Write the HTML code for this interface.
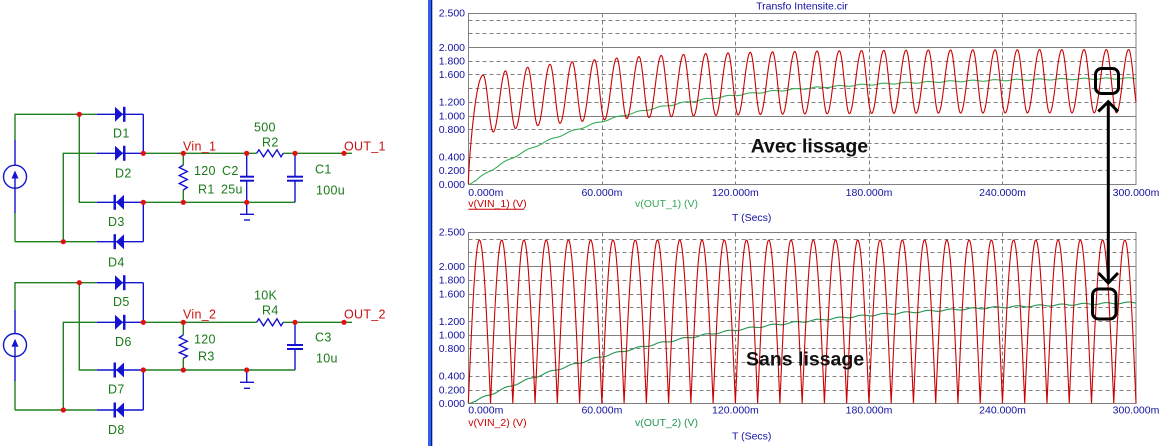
<!DOCTYPE html>
<html>
<head>
<meta charset="utf-8">
<style>
html,body{margin:0;padding:0;background:#fff;}
body{width:1163px;height:446px;overflow:hidden;}
svg{display:block;}
.sl{font-family:"Liberation Sans",Arial,sans-serif;font-size:12.5px;fill:#1a7a1a;letter-spacing:0.3px;}
.sr{font-family:"Liberation Sans",Arial,sans-serif;font-size:12.5px;fill:#cc1010;letter-spacing:0.3px;}
.ax{font-family:"Liberation Sans",Arial,sans-serif;font-size:10.5px;fill:#1010a0;}
.big{font-family:"Liberation Sans",Arial,sans-serif;font-size:19.5px;font-weight:bold;fill:#111;}
</style>
</head>
<body>
<svg id="s" width="1163" height="446" viewBox="0 0 1163 446" xmlns="http://www.w3.org/2000/svg">
<rect x="0" y="0" width="1163" height="446" fill="#fff"/>

<!-- ===== TOP CIRCUIT ===== -->
<g stroke="#208020" stroke-width="1.4" fill="none">
  <polyline points="15,140 15,114.3 96.7,114.3"/>
  <line x1="15" y1="213" x2="15" y2="241.7"/>
  <polyline points="79.3,114.3 79.3,202.3 96.7,202.3"/>
  <polyline points="63.3,241.7 63.3,153.3 96.7,153.3"/>
  <line x1="15" y1="241.7" x2="96.7" y2="241.7"/>
  <line x1="143.3" y1="153.3" x2="256.7" y2="153.3"/>
  <line x1="283.3" y1="153.3" x2="352" y2="153.3"/>
  <line x1="143.3" y1="202.3" x2="295" y2="202.3"/>
  <line x1="183.3" y1="153.3" x2="183.3" y2="165"/>
  <line x1="183.3" y1="190" x2="183.3" y2="202.3"/>
</g>
<g stroke="#1414d0" stroke-width="1.4" fill="none">
  <line x1="15" y1="140" x2="15" y2="165.2"/>
  <line x1="15" y1="178.5" x2="15" y2="213"/>
  <circle cx="15" cy="176.7" r="11.5"/>
  <line x1="96.7" y1="114.3" x2="143.3" y2="114.3"/>
  <line x1="96.7" y1="153.3" x2="143.3" y2="153.3"/>
  <line x1="96.7" y1="202.3" x2="143.3" y2="202.3"/>
  <line x1="96.7" y1="241.7" x2="143.3" y2="241.7"/>
  <line x1="143.3" y1="114.3" x2="143.3" y2="153.3"/>
  <line x1="143.3" y1="202.3" x2="143.3" y2="241.7"/>
  <polyline points="256.7,153.3 259,149.8 263.5,156.8 268,149.8 272.5,156.8 277,149.8 281,156.8 283.3,153.3"/>
  <polyline points="183.3,165 179.3,167.5 187.3,171.5 179.3,175.5 187.3,179.5 179.3,183.5 187.3,187.5 183.3,190"/>
  <line x1="246.7" y1="153.3" x2="246.7" y2="176.7"/>
  <line x1="246.7" y1="180.7" x2="246.7" y2="214.3"/>
  <line x1="240" y1="176.7" x2="254" y2="176.7" stroke-width="2"/>
  <line x1="240" y1="180.7" x2="254" y2="180.7" stroke-width="2"/>
  <line x1="240" y1="214.3" x2="254" y2="214.3"/>
  <line x1="244" y1="220" x2="250" y2="220"/>
  <line x1="295" y1="153.3" x2="295" y2="176.7"/>
  <line x1="295" y1="180.7" x2="295" y2="202.3"/>
  <line x1="287" y1="176.7" x2="303" y2="176.7" stroke-width="2"/>
  <line x1="287" y1="180.7" x2="303" y2="180.7" stroke-width="2"/>
</g>
<g fill="#1414d0">
  <polygon points="11.5,178.5 18.5,178.5 15,170.5"/>
  <polygon points="115,106.8 115,121.8 123,114.3"/><rect x="123" y="106.8" width="2.5" height="15"/>
  <polygon points="115,145.8 115,160.8 123,153.3"/><rect x="123" y="145.8" width="2.5" height="15"/>
  <polygon points="124,194.8 124,209.8 116,202.3"/><rect x="113.5" y="194.8" width="2.5" height="15"/>
  <polygon points="124,234.2 124,249.2 116,241.7"/><rect x="113.5" y="234.2" width="2.5" height="15"/>
</g>
<g fill="#e01010">
  <circle cx="79.3" cy="114.3" r="2.6"/><circle cx="143.3" cy="153.3" r="2.6"/>
  <circle cx="183.3" cy="153.3" r="2.6"/><circle cx="246.7" cy="153.3" r="2.6"/>
  <circle cx="295" cy="153.3" r="2.6"/><circle cx="344" cy="153.3" r="2.6"/>
  <circle cx="143.3" cy="202.3" r="2.6"/><circle cx="183.3" cy="202.3" r="2.6"/>
  <circle cx="246.7" cy="202.3" r="2.6"/><circle cx="63.3" cy="241.7" r="2.6"/>
</g>
<text class="sl" x="113" y="137.7">D1</text>
<text class="sl" x="115" y="177.3">D2</text>
<text class="sl" x="108" y="226">D3</text>
<text class="sl" x="108" y="266.7">D4</text>
<text class="sr" x="183" y="150.3">Vin_1</text>
<text class="sr" x="344" y="150.3">OUT_1</text>
<text class="sl" x="254" y="131.7">500</text>
<text class="sl" x="262" y="146.7">R2</text>
<text class="sl" x="194" y="175">120</text>
<text class="sl" x="222" y="175">C2</text>
<text class="sl" x="198" y="193.3">R1</text>
<text class="sl" x="221" y="193.3">25u</text>
<text class="sl" x="315" y="173.3">C1</text>
<text class="sl" x="316" y="194.3">100u</text>

<!-- ===== BOTTOM CIRCUIT ===== -->
<g stroke="#208020" stroke-width="1.4" fill="none">
  <polyline points="15,310 15,282.7 96.7,282.7"/>
  <line x1="15" y1="381" x2="15" y2="410"/>
  <polyline points="79.3,282.7 79.3,370 96.7,370"/>
  <polyline points="63.3,410 63.3,322.3 96.7,322.3"/>
  <line x1="15" y1="410" x2="96.7" y2="410"/>
  <line x1="143.3" y1="322.3" x2="256.7" y2="322.3"/>
  <line x1="283.3" y1="322.3" x2="352" y2="322.3"/>
  <line x1="143.3" y1="370" x2="295" y2="370"/>
  <line x1="183.3" y1="322.3" x2="183.3" y2="335"/>
  <line x1="183.3" y1="358.3" x2="183.3" y2="370"/>
</g>
<g stroke="#1414d0" stroke-width="1.4" fill="none">
  <line x1="15" y1="310" x2="15" y2="333.5"/>
  <line x1="15" y1="346.8" x2="15" y2="381"/>
  <circle cx="15" cy="345" r="11.5"/>
  <line x1="96.7" y1="282.7" x2="143.3" y2="282.7"/>
  <line x1="96.7" y1="322.3" x2="143.3" y2="322.3"/>
  <line x1="96.7" y1="370" x2="143.3" y2="370"/>
  <line x1="96.7" y1="410" x2="143.3" y2="410"/>
  <line x1="143.3" y1="282.7" x2="143.3" y2="322.3"/>
  <line x1="143.3" y1="370" x2="143.3" y2="410"/>
  <polyline points="256.7,322.3 259,318.8 263.5,325.8 268,318.8 272.5,325.8 277,318.8 281,325.8 283.3,322.3"/>
  <polyline points="183.3,335 179.3,337.5 187.3,341.3 179.3,345.1 187.3,348.9 179.3,352.7 187.3,356 183.3,358.3"/>
  <line x1="246.7" y1="370" x2="246.7" y2="382.3"/>
  <line x1="240" y1="382.3" x2="254" y2="382.3"/>
  <line x1="244" y1="388.3" x2="250" y2="388.3"/>
  <line x1="295" y1="322.3" x2="295" y2="345"/>
  <line x1="295" y1="349" x2="295" y2="370"/>
  <line x1="287" y1="345" x2="303" y2="345" stroke-width="2"/>
  <line x1="287" y1="349" x2="303" y2="349" stroke-width="2"/>
</g>
<g fill="#1414d0">
  <polygon points="11.5,346.8 18.5,346.8 15,338.8"/>
  <polygon points="115,275.2 115,290.2 123,282.7"/><rect x="123" y="275.2" width="2.5" height="15"/>
  <polygon points="115,314.8 115,329.8 123,322.3"/><rect x="123" y="314.8" width="2.5" height="15"/>
  <polygon points="124,362.5 124,377.5 116,370"/><rect x="113.5" y="362.5" width="2.5" height="15"/>
  <polygon points="124,402.5 124,417.5 116,410"/><rect x="113.5" y="402.5" width="2.5" height="15"/>
</g>
<g fill="#e01010">
  <circle cx="79.3" cy="282.7" r="2.6"/><circle cx="143.3" cy="322.3" r="2.6"/>
  <circle cx="183.3" cy="322.3" r="2.6"/><circle cx="295" cy="322.3" r="2.6"/>
  <circle cx="344" cy="322.3" r="2.6"/><circle cx="143.3" cy="370" r="2.6"/>
  <circle cx="183.3" cy="370" r="2.6"/><circle cx="246.7" cy="370" r="2.6"/>
  <circle cx="63.3" cy="410" r="2.6"/>
</g>
<text class="sl" x="113" y="306">D5</text>
<text class="sl" x="115" y="346">D6</text>
<text class="sl" x="108" y="393.3">D7</text>
<text class="sl" x="108" y="434">D8</text>
<text class="sr" x="183" y="318.5">Vin_2</text>
<text class="sr" x="344" y="318.5">OUT_2</text>
<text class="sl" x="254" y="299.3">10K</text>
<text class="sl" x="262" y="314.3">R4</text>
<text class="sl" x="194" y="343.3">120</text>
<text class="sl" x="198" y="360.7">R3</text>
<text class="sl" x="315" y="341.7">C3</text>
<text class="sl" x="316" y="362.3">10u</text>

<!-- ===== BLUE BAR ===== -->
<rect x="428" y="0" width="3" height="446" fill="#2f62ea"/>
<rect x="431" y="0" width="1.3" height="446" fill="#001a8a"/>

<!-- ===== PLOTS ===== -->
<g id="grid"></g>
<g id="curves" fill="none" stroke-width="1.1"></g>

<text class="ax" x="802" y="9.5" text-anchor="middle">Transfo Intensite.cir</text>

<g class="ax" text-anchor="end">
  <text x="465" y="16.5">2.500</text>
  <text x="465" y="50.8">2.000</text>
  <text x="465" y="64.5">1.800</text>
  <text x="465" y="78.2">1.600</text>
  <text x="465" y="105.6">1.200</text>
  <text x="465" y="119.3">1.000</text>
  <text x="465" y="133">0.800</text>
  <text x="465" y="160.4">0.400</text>
  <text x="465" y="174.1">0.200</text>
  <text x="465" y="187.8">0.000</text>
</g>
<g class="ax" text-anchor="middle">
  <text x="468.3" y="195.8" text-anchor="start">0.000m</text>
  <text x="601.9" y="195.8">60.000m</text>
  <text x="735.4" y="195.8">120.000m</text>
  <text x="869" y="195.8">180.000m</text>
  <text x="1002.5" y="195.8">240.000m</text>
  <text x="1136" y="195.8">300.000m</text>
</g>
<text class="ax" x="468.3" y="207" style="fill:#cc0000">v(VIN_1) (V)</text>
<line x1="468.3" y1="209.3" x2="524" y2="209.3" stroke="#cc0000" stroke-width="1"/>
<text class="ax" x="635" y="207" style="fill:#33a855">v(OUT_1) (V)</text>
<text class="ax" x="751.7" y="221" text-anchor="middle">T (Secs)</text>

<g class="ax" text-anchor="end">
  <text x="465" y="235.6">2.500</text>
  <text x="465" y="269.9">2.000</text>
  <text x="465" y="283.6">1.800</text>
  <text x="465" y="297.3">1.600</text>
  <text x="465" y="324.8">1.200</text>
  <text x="465" y="338.5">1.000</text>
  <text x="465" y="352.2">0.800</text>
  <text x="465" y="379.7">0.400</text>
  <text x="465" y="393.4">0.200</text>
  <text x="465" y="407.1">0.000</text>
</g>
<g class="ax" text-anchor="middle">
  <text x="468.3" y="413.5" text-anchor="start">0.000m</text>
  <text x="601.9" y="413.5">60.000m</text>
  <text x="735.4" y="413.5">120.000m</text>
  <text x="869" y="413.5">180.000m</text>
  <text x="1002.5" y="413.5">240.000m</text>
  <text x="1136" y="413.5">300.000m</text>
</g>
<text class="ax" x="468.3" y="426" style="fill:#cc0000">v(VIN_2) (V)</text>
<text class="ax" x="635" y="426" style="fill:#1f9550">v(OUT_2) (V)</text>
<text class="ax" x="751.7" y="439.5" text-anchor="middle">T (Secs)</text>

<text class="big" x="750.7" y="152.5">Avec lissage</text>
<text class="big" x="746" y="365.7">Sans lissage</text>

<g stroke="#000" stroke-width="3" fill="none" stroke-linejoin="miter">
  <rect x="1095.5" y="68.5" width="23" height="25" rx="6"/>
  <rect x="1092.5" y="289" width="23.5" height="30" rx="6"/>
  <line x1="1108.3" y1="103" x2="1108.3" y2="281.5"/>
  <polyline points="1098.3,111.5 1108.3,101.7 1118,111.5"/>
  <polyline points="1098.5,273 1108.3,283 1118,273"/>
</g>
</svg>

<script>
(function(){
  var X=function(t){return 468.3+t*2.2257;};
  var YT=function(v){return 184-v*68.5;};
  var YB=function(v){return 403.3-v*68.6;};
  var g='';
  function grid(Y){
    var top=Math.round(Y(2.5))+0.5, bot=Math.round(Y(0))+0.5;
    for(var i=1;i<=12;i++){
      var y=Math.round(Y(i*0.2))+0.5;
      var solid=(i===5||i===10);
      g+='<line x1="468.5" x2="1136" y1="'+y+'" y2="'+y+'" stroke="#808080" stroke-width="1"'+(solid?'':' stroke-dasharray="4,3"')+'/>';
    }
    [60,120,180,240].forEach(function(t){
      var x=Math.round(X(t))+0.5;
      g+='<line x1="'+x+'" x2="'+x+'" y1="'+top+'" y2="'+bot+'" stroke="#808080" stroke-width="1" stroke-dasharray="4,3"/>';
    });
    g+='<rect x="468.5" y="'+top+'" width="'+(1136-468.5)+'" height="'+(bot-top)+'" fill="none" stroke="#808080" stroke-width="1"/>';
  }
  grid(YT); grid(YB);
  document.getElementById('grid').innerHTML=g;

  function P(t){return 1.965-0.425*Math.exp(-t/55);}
  function V(t){return 1.04-0.35*Math.exp(-t/50);}
  var ext=[[0,0]];
  for(var k=0;k<32;k++){ext.push([6.7+10*k,P(6.7+10*k)]);ext.push([11.2+10*k,V(11.2+10*k)]);}
  function vin1(t){
    for(var i=0;i<ext.length-1;i++){
      if(t>=ext[i][0]&&t<ext[i+1][0]){
        var a=ext[i][1],b=ext[i+1][1],f=(t-ext[i][0])/(ext[i+1][0]-ext[i][0]);
        if(i===0) return b*Math.pow(Math.sin(f*Math.PI/2),0.75);
        return a+(b-a)*(1-Math.cos(Math.PI*f))/2;
      }
    }
    return 0;
  }
  function vin2(t){return 2.38*Math.abs(Math.sin(Math.PI*t/10));}
  function out1(t){var tt=Math.max(0,t-1);return 1.56*(1-Math.exp(-tt/67))+(t>3?0.01*Math.sin(2*Math.PI*(t-4)/10):0);}
  function out2(t){var tt=Math.max(0,t-1);return 1.55*(1-Math.exp(-tt/102))+(t>3?0.012*Math.sin(2*Math.PI*(t-4)/10):0);}
  function path(fn,Y){
    var d='';
    for(var i=0;i<=3000;i++){
      var t=i*0.1;
      d+=(i?'L':'M')+X(t).toFixed(2)+' '+Y(fn(t)).toFixed(2);
    }
    return d;
  }
  var c='';
  c+='<path d="'+path(out1,YT)+'" stroke="#3aac5a"/>';
  c+='<path d="'+path(vin1,YT)+'" stroke="#cc0000"/>';
  c+='<path d="'+path(out2,YB)+'" stroke="#1f9550"/>';
  c+='<path d="'+path(vin2,YB)+'" stroke="#cc0000"/>';
  document.getElementById('curves').innerHTML=c;
})();
</script>
</body>
</html>
